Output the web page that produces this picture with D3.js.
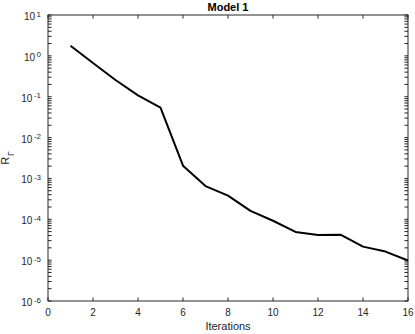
<!DOCTYPE html>
<html>
<head>
<meta charset="utf-8">
<script src="https://cdn.jsdelivr.net/npm/d3@7"></script>
<style>
  body { margin: 0; background: #fff; }
  text { font-family: "Liberation Sans", Arial, sans-serif; }
</style>
</head>
<body>
<div id="chart"></div>
<script>
// data
const iterations = [1, 2, 3, 4, 5, 6, 7, 8, 9, 10, 11, 12, 13, 14, 15, 16];
const residual = [1.77, 0.67, 0.256, 0.108, 0.054, 0.00205, 6.5e-4, 3.8e-4, 1.6e-4,
                  9.2e-5, 4.9e-5, 4.1e-5, 4.2e-5, 2.14e-5, 1.62e-5, 9.8e-6];
const xTicks = [0, 2, 4, 6, 8, 10, 12, 14, 16];
const yExponents = [1, 0, -1, -2, -3, -4, -5, -6];

const width = 415, height = 334;
const margin = {top: 15, right: 7, bottom: 33, left: 48};
const tickLen = 3.6;
const axisColor = "#262626";

const svg = d3.select("#chart")
  .append("svg")
  .attr("width", width)
  .attr("height", height);

const x = d3.scaleLinear()
  .domain([0, 16])
  .range([margin.left, width - margin.right]);

const y = d3.scaleLog()
  .domain([1e-6, 1e1])
  .range([height - margin.bottom, margin.top]);

const x0 = x.range()[0], x1 = x.range()[1];
const yb = y.range()[0], yt = y.range()[1];

// box
svg.append("rect")
  .attr("x", x0).attr("y", yt)
  .attr("width", x1 - x0).attr("height", yb - yt)
  .attr("fill", "none")
  .attr("stroke", axisColor)
  .attr("stroke-width", 1);

const ticks = svg.append("g")
  .attr("stroke", axisColor)
  .attr("stroke-width", 1);

// x ticks, inside, bottom and top
xTicks.forEach(t => {
  ticks.append("line").attr("x1", x(t)).attr("x2", x(t)).attr("y1", yb).attr("y2", yb - tickLen);
  ticks.append("line").attr("x1", x(t)).attr("x2", x(t)).attr("y1", yt).attr("y2", yt + tickLen);
});

// y ticks (major + minor), inside, left and right
const yTickVals = [];
for (let e = -6; e < 1; e++) {
  for (let m = 1; m < 10; m++) yTickVals.push(m * Math.pow(10, e));
}
yTickVals.push(10);
yTickVals.forEach(v => {
  ticks.append("line").attr("x1", x0).attr("x2", x0 + tickLen).attr("y1", y(v)).attr("y2", y(v));
  ticks.append("line").attr("x1", x1).attr("x2", x1 - tickLen).attr("y1", y(v)).attr("y2", y(v));
});

// x tick labels
svg.append("g")
  .selectAll("text")
  .data(xTicks)
  .join("text")
  .attr("x", d => x(d))
  .attr("y", yb + 15)
  .attr("text-anchor", "middle")
  .attr("font-size", 10)
  .attr("fill", axisColor)
  .text(d => d);

// y tick labels 10^n
const yl = svg.append("g")
  .selectAll("text")
  .data(yExponents)
  .join("text")
  .attr("x", x0 - 7)
  .attr("y", d => y(Math.pow(10, d)) + 5)
  .attr("text-anchor", "end")
  .attr("font-size", 10)
  .attr("fill", axisColor);
yl.append("tspan").text("10");
yl.append("tspan")
  .attr("font-size", 8)
  .attr("dy", -3.5)
  .attr("dx", 1.5)
  .text(d => d);

// line
const line = d3.line()
  .x((d, i) => x(iterations[i]))
  .y(d => y(d));

svg.append("path")
  .datum(residual)
  .attr("d", line)
  .attr("fill", "none")
  .attr("stroke", "#000")
  .attr("stroke-width", 2)
  .attr("stroke-linejoin", "round");

// title
svg.append("text")
  .attr("x", (x0 + x1) / 2)
  .attr("y", yt - 4)
  .attr("text-anchor", "middle")
  .attr("font-size", 11)
  .attr("font-weight", "bold")
  .attr("fill", "#000")
  .text("Model 1");

// x label
svg.append("text")
  .attr("x", (x0 + x1) / 2)
  .attr("y", height - 4)
  .attr("text-anchor", "middle")
  .attr("font-size", 11)
  .attr("fill", axisColor)
  .text("Iterations");

// y label R_Γ
const ylab = svg.append("text")
  .attr("transform", `translate(9,${(yt + yb) / 2}) rotate(-90)`)
  .attr("text-anchor", "middle")
  .attr("font-size", 11)
  .attr("fill", axisColor);
ylab.append("tspan").text("R");
ylab.append("tspan").attr("font-size", 8.5).attr("dy", 5).attr("dx", 1).text("Γ");
</script>
</body>
</html>
